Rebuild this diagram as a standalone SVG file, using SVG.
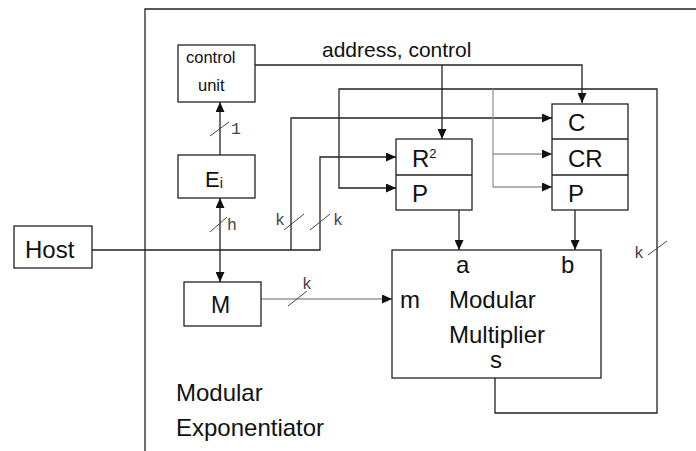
<svg xmlns="http://www.w3.org/2000/svg" width="696" height="451" viewBox="0 0 696 451">
<style>
.box{fill:none;stroke:#222;stroke-width:1.3}
.ln{fill:none;stroke:#222;stroke-width:1.3}
.gl{fill:none;stroke:#999;stroke-width:1.3}
.sl{fill:none;stroke:#444;stroke-width:1}
.t{font-family:"Liberation Sans",Arial,sans-serif;fill:#111}
.lb{font-family:"Liberation Mono","Courier New",monospace;font-size:16.5px;fill:#444}
</style>
<defs>
<marker id="ah" markerUnits="userSpaceOnUse" markerWidth="10" markerHeight="9" refX="10" refY="4.5" orient="auto-start-reverse">
<path d="M0,0 L10,4.5 L0,9 z" fill="#111"/>
</marker>
</defs>
<rect width="696" height="451" fill="#fff"/>
<g id="outer">
<path class="box" d="M145,451 V9 H696"/>
<text class="t" x="176" y="401" font-size="24">Modular</text>
<text class="t" x="176" y="436" font-size="24">Exponentiator</text>
</g>
<g id="connectors">
<path class="ln" d="M255,65 H582 V103" marker-end="url(#ah)"/>
<path class="ln" d="M442,65 V139" marker-end="url(#ah)"/>
<path class="ln" d="M220,155 V102" marker-end="url(#ah)"/>
<path class="ln" d="M220,198 V282" marker-start="url(#ah)" marker-end="url(#ah)"/>
<path class="ln" d="M92,250 H320 V157 H396" marker-end="url(#ah)"/>
<path class="ln" d="M291,250 V118 H552" marker-end="url(#ah)"/>
<path class="ln" d="M495,378 V413 H657 V89 H339 V188 H396" marker-end="url(#ah)"/>
<path class="gl" d="M493,89 V187 H552" marker-end="url(#ah)"/>
<path class="gl" d="M493,154 H552" marker-end="url(#ah)"/>
<path class="gl" d="M261,299 H392" marker-end="url(#ah)"/>
<path class="ln" d="M459,210 V250" marker-end="url(#ah)"/>
<path class="ln" d="M575,210 V250" marker-end="url(#ah)"/>
<line class="sl" x1="210" y1="136" x2="229" y2="122"/>
<text class="lb" x="231" y="134">1</text>
<line class="sl" x1="210" y1="232" x2="227" y2="217"/>
<text class="lb" x="227" y="230">h</text>
<line class="sl" x1="284" y1="230" x2="304" y2="214"/>
<text class="lb" x="275" y="225">k</text>
<line class="sl" x1="310" y1="230" x2="330" y2="214"/>
<text class="lb" x="333" y="225">k</text>
<line class="sl" x1="288" y1="306" x2="307" y2="291"/>
<text class="lb" x="302" y="289">k</text>
<line class="sl" x1="648" y1="255" x2="667" y2="241"/>
<text class="lb" x="634" y="258">k</text>
<text class="t" x="322" y="57" font-size="21">address, control</text>
</g>
<g id="host">
<rect class="box" x="14" y="226" width="78" height="42"/>
<text class="t" x="25" y="258" font-size="24">Host</text>
</g>
<g id="control-unit">
<rect class="box" x="178" y="45" width="77" height="57"/>
<text class="t" x="186" y="63" font-size="16.5">control</text>
<text class="t" x="198" y="91" font-size="16.5">unit</text>
</g>
<g id="ei">
<rect class="box" x="178" y="155" width="77" height="43"/>
<text class="t" x="205" y="187" font-size="22">E<tspan font-size="14" dy="1">i</tspan></text>
</g>
<g id="m-reg">
<rect class="box" x="184" y="282" width="77" height="44"/>
<text class="t" x="211" y="313" font-size="23">M</text>
</g>
<g id="r2p">
<rect class="box" x="396" y="139" width="76" height="71"/>
<line class="box" x1="396" y1="175" x2="472" y2="175"/>
<text class="t" x="412" y="167" font-size="24">R<tspan font-size="13" dy="-9">2</tspan></text>
<text class="t" x="412" y="202" font-size="24">P</text>
</g>
<g id="c-cr-p">
<rect class="box" x="552" y="104" width="76" height="106"/>
<line class="box" x1="552" y1="139" x2="628" y2="139"/>
<line class="box" x1="552" y1="175" x2="628" y2="175"/>
<text class="t" x="568" y="131" font-size="24">C</text>
<text class="t" x="568" y="167" font-size="24">CR</text>
<text class="t" x="568" y="202" font-size="24">P</text>
</g>
<g id="multiplier">
<rect class="box" x="392" y="250" width="209" height="128"/>
<text class="t" x="456" y="273" font-size="24">a</text>
<text class="t" x="561" y="273" font-size="24">b</text>
<text class="t" x="400" y="308" font-size="24">m</text>
<text class="t" x="449" y="308" font-size="24">Modular</text>
<text class="t" x="449" y="343" font-size="24">Multiplier</text>
<text class="t" x="490" y="368" font-size="24">s</text>
</g>
</svg>
